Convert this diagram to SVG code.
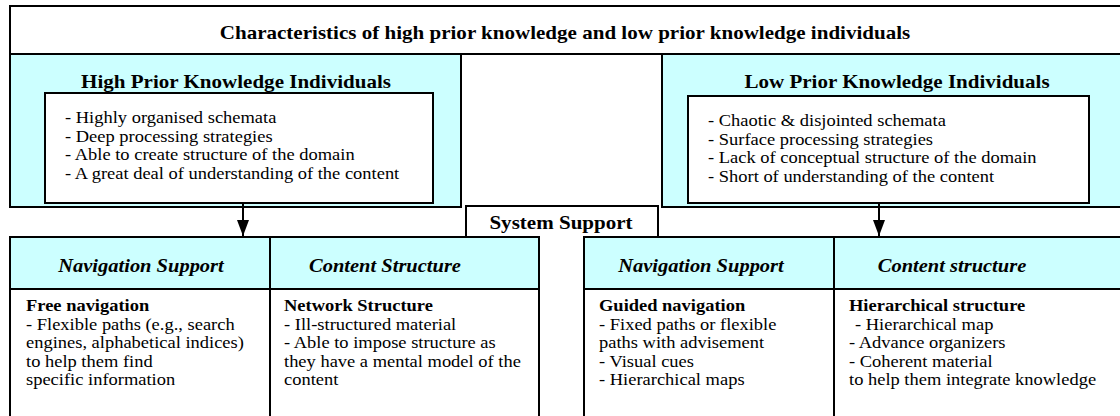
<svg xmlns="http://www.w3.org/2000/svg" width="1120" height="416" viewBox="0 0 1120 416">
<style>
  .box{fill:#fff;stroke:#000;stroke-width:2}
  .cyan{fill:#CCFFFF;stroke:#000;stroke-width:2}
  .ln{fill:none;stroke:#000;stroke-width:2}
  text{font-family:"Liberation Serif","Times New Roman",serif;fill:#000}
  .t{font-size:18.8px;font-weight:bold;text-anchor:middle}
  .h{font-size:18.3px;font-weight:bold;font-style:italic;text-anchor:middle}
  .b{font-size:16.5px}
  .bb{font-size:16.5px;font-weight:bold}
</style>
<defs>
  <marker id="arr" markerWidth="16" markerHeight="12" refX="16" refY="6" orient="auto" markerUnits="userSpaceOnUse" viewBox="0 0 16 12">
    <path d="M0,0 L16,6 L0,12 Z" fill="#000"/>
  </marker>
</defs>
<rect width="1120" height="416" fill="#fff"/>
<g id="title">
  <rect class="box" x="10" y="6" width="1120" height="48"/>
  <text class="t" transform="translate(565 39) scale(1.12 1)">Characteristics of high prior knowledge and low prior knowledge individuals</text>
</g>
<g id="high">
  <rect class="cyan" x="10" y="54" width="451" height="153"/>
  <text class="t" transform="translate(236 87.5) scale(1.12 1)">High Prior Knowledge Individuals</text>
  <rect class="box" x="45" y="93" width="388" height="110"/>
  <text class="b" transform="translate(65 123) scale(1.12 1)">- Highly organised schemata</text>
  <text class="b" transform="translate(65 141.5) scale(1.12 1)">- Deep processing strategies</text>
  <text class="b" transform="translate(65 160) scale(1.12 1)">- Able to create structure of the domain</text>
  <text class="b" transform="translate(65 178.5) scale(1.12 1)">- A great deal of understanding of the content</text>
</g>
<g id="low">
  <rect class="cyan" x="662" y="54" width="470" height="153"/>
  <text class="t" transform="translate(897 87.5) scale(1.12 1)">Low Prior Knowledge Individuals</text>
  <rect class="box" x="688" y="96" width="401" height="107"/>
  <text class="b" transform="translate(708 126) scale(1.12 1)">- Chaotic &amp; disjointed schemata</text>
  <text class="b" transform="translate(708 144.5) scale(1.12 1)">- Surface processing strategies</text>
  <text class="b" transform="translate(708 163) scale(1.12 1)">- Lack of conceptual structure of the domain</text>
  <text class="b" transform="translate(708 181.5) scale(1.12 1)">- Short of understanding of the content</text>
</g>
<g id="system">
  <path class="box" d="M466,240 V206 H658 V240"/>
  <text class="t" transform="translate(561 228.5) scale(1.12 1)">System Support</text>
</g>
<g id="high-support">
  <rect class="box" x="10" y="237" width="529" height="200"/>
  <rect class="cyan" x="10" y="237" width="529" height="52"/>
  <line class="ln" x1="270" y1="237" x2="270" y2="420"/>
  <text class="h" transform="translate(141 272) scale(1.12 1)">Navigation Support</text>
  <text class="h" transform="translate(385 272) scale(1.12 1)">Content Structure</text>
  <text class="bb" transform="translate(26 311) scale(1.12 1)">Free navigation</text>
  <text class="b" transform="translate(26 329.5) scale(1.12 1)">- Flexible paths (e.g., search</text>
  <text class="b" transform="translate(26 348) scale(1.12 1)">engines, alphabetical indices)</text>
  <text class="b" transform="translate(26 366.5) scale(1.12 1)">to help them find</text>
  <text class="b" transform="translate(26 385) scale(1.12 1)">specific information</text>
  <text class="bb" transform="translate(284 311) scale(1.12 1)">Network Structure</text>
  <text class="b" transform="translate(284 329.5) scale(1.12 1)">- Ill-structured material</text>
  <text class="b" transform="translate(284 348) scale(1.12 1)">- Able to impose structure as</text>
  <text class="b" transform="translate(284 366.5) scale(1.12 1)">they have a mental model of the</text>
  <text class="b" transform="translate(284 385) scale(1.12 1)">content</text>
</g>
<g id="low-support">
  <rect class="box" x="584" y="237" width="545" height="200"/>
  <rect class="cyan" x="584" y="237" width="545" height="52"/>
  <line class="ln" x1="834" y1="237" x2="834" y2="420"/>
  <text class="h" transform="translate(701 272) scale(1.12 1)">Navigation Support</text>
  <text class="h" transform="translate(952 272) scale(1.12 1)">Content structure</text>
  <text class="bb" transform="translate(599 311) scale(1.12 1)">Guided navigation</text>
  <text class="b" transform="translate(599 329.5) scale(1.12 1)">- Fixed paths or flexible</text>
  <text class="b" transform="translate(599 348) scale(1.12 1)">paths with advisement</text>
  <text class="b" transform="translate(599 366.5) scale(1.12 1)">- Visual cues</text>
  <text class="b" transform="translate(599 385) scale(1.12 1)">- Hierarchical maps</text>
  <text class="bb" transform="translate(849 311) scale(1.12 1)">Hierarchical structure</text>
  <text class="b" transform="translate(855 329.5) scale(1.12 1)">- Hierarchical map</text>
  <text class="b" transform="translate(849 348) scale(1.12 1)">- Advance organizers</text>
  <text class="b" transform="translate(849 366.5) scale(1.12 1)">- Coherent material</text>
  <text class="b" transform="translate(849 385) scale(1.12 1)">to help them integrate knowledge</text>
</g>
<g id="connectors">
  <line class="ln" x1="243" y1="203" x2="243" y2="236" marker-end="url(#arr)"/>
  <line class="ln" x1="879" y1="203" x2="879" y2="236" marker-end="url(#arr)"/>
</g>
</svg>
